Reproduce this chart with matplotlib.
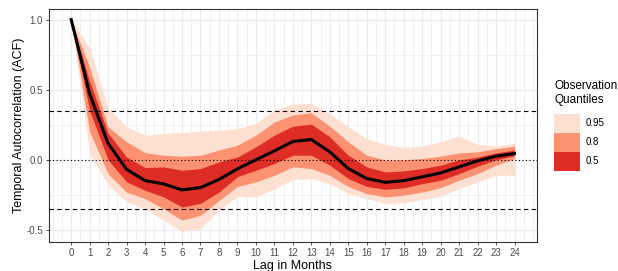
import matplotlib
matplotlib.use("Agg")
import matplotlib.pyplot as plt
from matplotlib.patches import Patch
import numpy as np

plt.rcParams["font.family"] = ["Liberation Sans", "DejaVu Sans"]

lags = list(range(25))
median = [1.0, 0.47, 0.117, -0.067, -0.148, -0.171, -0.214, -0.198, -0.14, -0.064,
          0.0, 0.064, 0.131, 0.145, 0.057, -0.062, -0.133, -0.16, -0.148, -0.121,
          -0.093, -0.05, -0.007, 0.026, 0.045]

# quantile bands (lower, upper)
q50_lo = [1.0, 0.35, 0.0, -0.157, -0.217, -0.264, -0.336, -0.31, -0.23, -0.12,
          -0.074, -0.026, 0.033, 0.033, -0.038, -0.133, -0.19, -0.21, -0.2, -0.17,
          -0.145, -0.098, -0.045, 0.0, 0.03]
q50_hi = [1.0, 0.56, 0.19, 0.02, -0.055, -0.05, -0.074, -0.062, -0.014, 0.02,
          0.093, 0.176, 0.24, 0.255, 0.164, 0.033, -0.05, -0.086, -0.079, -0.062,
          -0.038, 0.0, 0.02, 0.05, 0.07]
q80_lo = [1.0, 0.2, -0.1, -0.23, -0.276, -0.348, -0.43, -0.395, -0.29, -0.19,
          -0.157, -0.11, -0.05, -0.062, -0.11, -0.19, -0.24, -0.264, -0.252, -0.23,
          -0.198, -0.145, -0.098, -0.038, 0.01]
q80_hi = [1.0, 0.66, 0.236, 0.129, 0.052, 0.033, 0.026, 0.033, 0.07, 0.105,
          0.176, 0.27, 0.32, 0.336, 0.24, 0.129, 0.033, 0.0, 0.0, 0.01,
          0.026, 0.05, 0.057, 0.08, 0.098]
q95_lo = [1.0, 0.045, -0.18, -0.3, -0.348, -0.43, -0.51, -0.49, -0.36, -0.26,
          -0.264, -0.205, -0.14, -0.133, -0.17, -0.24, -0.276, -0.31, -0.307, -0.283,
          -0.26, -0.205, -0.157, -0.11, -0.11]
q95_hi = [1.0, 0.8, 0.367, 0.236, 0.176, 0.188, 0.195, 0.205, 0.21, 0.224,
          0.26, 0.355, 0.398, 0.402, 0.33, 0.236, 0.152, 0.112, 0.088, 0.098,
          0.129, 0.169, 0.11, 0.098, 0.12]

conf_bound = 0.35
quantile_labels = ["0.95", "0.8", "0.5"]
band_colors = ["#FEE0D2", "#FC9272", "#DE2D26"]

fig = plt.figure(figsize=(6.18, 2.71), dpi=100)
ax = fig.add_axes([0.0793, 0.107, 0.7891, 0.8598])

for lo, hi, col in zip([q95_lo, q80_lo, q50_lo], [q95_hi, q80_hi, q50_hi], band_colors):
    ax.fill_between(lags, lo, hi, color=col, lw=0, zorder=2)
ax.plot(lags, median, color="black", lw=2.2, zorder=4, solid_joinstyle="miter")

ax.axhline(conf_bound, color="black", lw=0.8, ls=(0, (4, 3)), zorder=3)
ax.axhline(-conf_bound, color="black", lw=0.8, ls=(0, (4, 3)), zorder=3)
ax.axhline(0, color="black", lw=0.8, ls=(0, (1, 2.2)), zorder=3)

ax.set_xlim(-1.2, 25.2)
ax.set_ylim(-0.5855, 1.0755)
ax.set_xticks(lags)
ax.set_yticks([-0.5, 0.0, 0.5, 1.0])
ax.set_yticklabels(["-0.5", "0.0", "0.5", "1.0"])

# ggplot-like grid
for x in np.arange(-1, 25.5, 0.5):
    major = float(x).is_integer() and 0 <= x <= 24
    ax.axvline(x, color="#EBEBEB", lw=0.9 if major else 0.5, zorder=0)
for y in [-0.5, 0.0, 0.5, 1.0]:
    ax.axhline(y, color="#EBEBEB", lw=0.9, zorder=0)
for y in [-0.25, 0.25, 0.75]:
    ax.axhline(y, color="#EBEBEB", lw=0.5, zorder=0)

for s in ax.spines.values():
    s.set_color("#333333")
    s.set_linewidth(0.8)
ax.tick_params(axis="both", length=2.5, width=0.6, color="#333333",
               labelcolor="#4D4D4D", labelsize=7, pad=2)

ax.set_xlabel("Lag in Months", fontsize=9, labelpad=1)
ax.set_ylabel("Temporal Autocorrelation (ACF)", fontsize=9, labelpad=1)

handles = [Patch(facecolor=c, edgecolor="none") for c in band_colors]
leg = fig.legend(handles, quantile_labels, loc="upper left",
                 bbox_to_anchor=(0.897, 0.705), frameon=False, fontsize=7,
                 title="Observation\nQuantiles", title_fontsize=8.5,
                 alignment="left", labelspacing=0, handlelength=2.6,
                 handleheight=2.6, handletextpad=0.6, borderpad=0, borderaxespad=0)
leg._legend_box.sep = 6

fig.savefig("out.png", dpi=100)
